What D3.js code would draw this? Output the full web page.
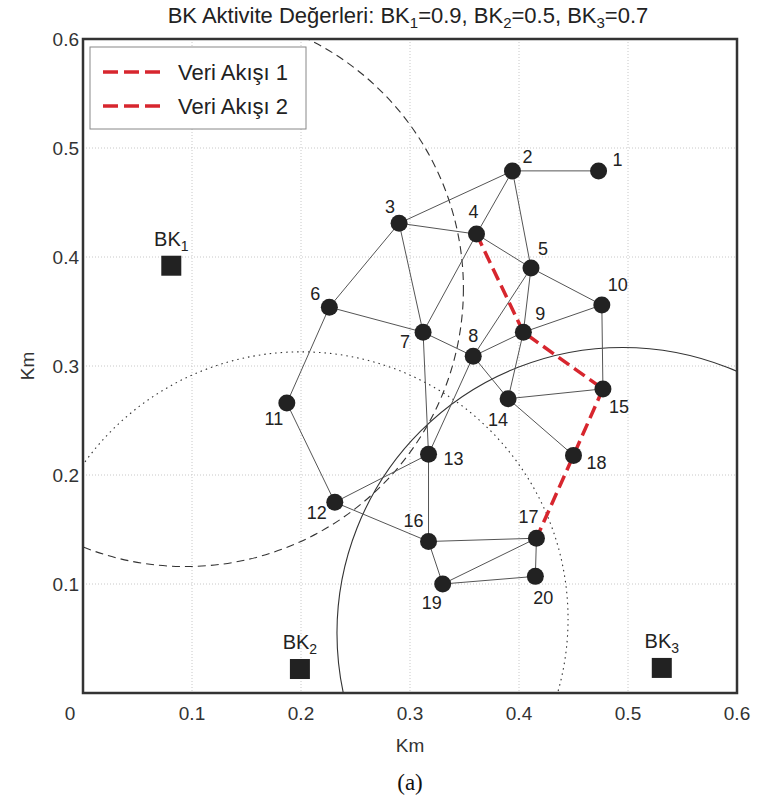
<!DOCTYPE html>
<html><head><meta charset="utf-8">
<script src="https://cdn.jsdelivr.net/npm/d3@7"></script>
<style>
html,body{margin:0;padding:0;background:#fff;}
svg{display:block;font-family:"Liberation Sans",Arial,sans-serif;}
</style></head>
<body><svg id="chart" width="759" height="805"></svg>
<script>
// ---- data ----
const nodeIds = [1,2,3,4,5,6,7,8,9,10,11,12,13,14,15,16,17,18,19,20];
const nodeX = [0.473,0.394,0.290,0.361,0.411,0.226,0.312,0.358,0.404,0.476,0.187,0.231,0.317,0.390,0.477,0.317,0.416,0.450,0.330,0.415];
const nodeY = [0.479,0.479,0.431,0.421,0.390,0.354,0.331,0.309,0.331,0.356,0.266,0.175,0.219,0.270,0.279,0.139,0.142,0.218,0.100,0.107];
const edges = [[1,2],[2,3],[2,4],[2,5],[3,4],[3,6],[3,7],[4,5],[4,7],[5,8],[5,9],[9,14],[5,10],[6,7],[6,11],[7,8],[7,13],[8,9],[8,13],[8,14],[9,10],[10,15],[14,15],[14,18],[11,12],[12,13],[12,16],[13,16],[16,17],[16,19],[19,17],[19,20],[17,20]];
const flowNames = ["Veri Akışı 1","Veri Akışı 2"];
const flow1 = [4,9,15];
const flow2 = [15,18,17];
const bsNames = ["1","2","3"];
const bsX = [0.081,0.199,0.531];
const bsY = [0.392,0.022,0.023];
const bsActivity = [0.9,0.5,0.7];
// coverage circles: centre x, centre y, radius (km)
const rangeCX = [0.094,0.200,0.495];
const rangeCY = [0.371,0.068,0.055];
const rangeR  = [0.255,0.245,0.262];
const xTicks = [0,0.1,0.2,0.3,0.4,0.5,0.6];
const yTicks = [0.1,0.2,0.3,0.4,0.5,0.6];

// ---- layout ----
const L = 83, T = 39, W = 654, H = 654;
const svg = d3.select("#chart");
const x = d3.scaleLinear().domain([0,0.6]).range([L, L+W]);
const y = d3.scaleLinear().domain([0,0.6]).range([T+H, T]);
const r1 = d3.scaleLinear().domain([0,0.6]).range([0,W]);

svg.append("defs").append("clipPath").attr("id","plotclip")
  .append("rect").attr("x",L).attr("y",T).attr("width",W).attr("height",H);

// grid
const grid = svg.append("g").attr("stroke","#c8c8c8").attr("stroke-width",1).attr("stroke-dasharray","1,2");
xTicks.slice(1,-1).forEach(v=>grid.append("line").attr("x1",x(v)).attr("x2",x(v)).attr("y1",T).attr("y2",T+H));
yTicks.slice(0,-1).forEach(v=>grid.append("line").attr("y1",y(v)).attr("y2",y(v)).attr("x1",L).attr("x2",L+W));

// coverage circles
const circStyles = ["8,5","1.5,4",null];
const cg = svg.append("g").attr("clip-path","url(#plotclip)");
rangeCX.forEach((cx,i)=>{
  const c = cg.append("circle").attr("cx",x(cx)).attr("cy",y(rangeCY[i])).attr("r",r1(rangeR[i]))
    .attr("fill","none").attr("stroke","#333").attr("stroke-width",1.1);
  if (circStyles[i]) c.attr("stroke-dasharray",circStyles[i]);
});

// edges
const idx = id => nodeIds.indexOf(id);
svg.append("g").selectAll("line").data(edges).join("line")
  .attr("x1",d=>x(nodeX[idx(d[0])])).attr("y1",d=>y(nodeY[idx(d[0])]))
  .attr("x2",d=>x(nodeX[idx(d[1])])).attr("y2",d=>y(nodeY[idx(d[1])]))
  .attr("stroke","#555").attr("stroke-width",1);

// flows
const line = d3.line().x(id=>x(nodeX[idx(id)])).y(id=>y(nodeY[idx(id)]));
[flow1,flow2].forEach(f=>{
  svg.append("path").attr("d",line(f)).attr("fill","none").attr("stroke","#d7262e")
    .attr("stroke-width",3.5).attr("stroke-dasharray","13,6");
});

// nodes
svg.append("g").selectAll("circle").data(nodeIds).join("circle")
  .attr("cx",id=>x(nodeX[idx(id)])).attr("cy",id=>y(nodeY[idx(id)])).attr("r",8.5).attr("fill","#222");

// node labels (pixel offsets)
const lblOff = {1:[19,-11],2:[15,-14],3:[-9,-16],4:[-3,-22],5:[12,-19],6:[-14,-13],7:[-18,10],8:[0,-20],9:[17,-18],10:[16,-20],
  11:[-13,16],12:[-18,11],13:[25,5],14:[-10,21],15:[16,18],16:[-15,-20],17:[-8,-21],18:[23,8],19:[-11,19],20:[8,22]};
svg.append("g").selectAll("text").data(nodeIds).join("text")
  .attr("x",id=>x(nodeX[idx(id)])+lblOff[id][0]).attr("y",id=>y(nodeY[idx(id)])+lblOff[id][1])
  .attr("text-anchor","middle").attr("dominant-baseline","central")
  .attr("font-size",18).attr("fill","#222").text(id=>id);

// base stations
const bs = svg.append("g");
bsX.forEach((bx,i)=>{
  bs.append("rect").attr("x",x(bx)-10).attr("y",y(bsY[i])-10).attr("width",20).attr("height",20).attr("fill","#222");
  const t = bs.append("text").attr("x",x(bx)).attr("y",y(bsY[i])-20).attr("text-anchor","middle")
    .attr("font-size",20).attr("fill","#222");
  t.append("tspan").text("BK");
  t.append("tspan").attr("font-size",14).attr("dy",5).text(bsNames[i]);
});

// frame
svg.append("rect").attr("x",L).attr("y",T).attr("width",W).attr("height",H)
  .attr("fill","none").attr("stroke","#333").attr("stroke-width",2.5);

// axes tick labels
const ax = svg.append("g").attr("font-size",19).attr("fill","#333");
ax.selectAll(".xt").data(xTicks).join("text").attr("class","xt")
  .attr("x",d=>x(d)+(d===0?-13:0)).attr("y",T+H+27).attr("text-anchor","middle").attr("fill","#333").text(d=>d===0?"0":d3.format(".1f")(d));
ax.selectAll(".yt").data(yTicks).join("text").attr("class","yt")
  .attr("x",L-4).attr("y",d=>y(d)).attr("dy","0.35em").attr("text-anchor","end").attr("fill","#333").text(d=>d3.format(".1f")(d));
svg.append("text").attr("x",L+W/2).attr("y",T+H+59).attr("text-anchor","middle").attr("font-size",19).attr("fill","#333").text("Km");
svg.append("text").attr("transform",`translate(34,${T+H/2}) rotate(-90)`).attr("text-anchor","middle").attr("font-size",19).attr("fill","#333").text("Km");

// title
const title = svg.append("text").attr("x",L+W/2-2).attr("y",23).attr("text-anchor","middle").attr("font-size",22).attr("fill","#222");
title.append("tspan").text("BK Aktivite Değerleri: ");
bsNames.forEach((n,i)=>{
  title.append("tspan").text("BK");
  title.append("tspan").attr("font-size",15).attr("dy",5).text(n);
  title.append("tspan").attr("dy",-5).text("=" + bsActivity[i] + (i<2?", ":""));
});

// legend
const lg = svg.append("g");
lg.append("rect").attr("x",90).attr("y",47).attr("width",216).attr("height",82).attr("fill","#fff").attr("stroke","#888").attr("stroke-width",1);
flowNames.forEach((n,i)=>{
  const yy = 72 + i*34;
  lg.append("line").attr("x1",103).attr("x2",162).attr("y1",yy).attr("y2",yy).attr("stroke","#d7262e").attr("stroke-width",3.5).attr("stroke-dasharray","15,6");
  lg.append("text").attr("x",178).attr("y",yy).attr("dy","0.35em").attr("font-size",22).attr("fill","#222").text(n);
});

// caption
svg.append("text").attr("x",L+W/2).attr("y",790).attr("text-anchor","middle").attr("font-family","'Liberation Serif','Times New Roman',serif").attr("font-size",23).attr("fill","#111").text("(a)");
</script></body></html>
